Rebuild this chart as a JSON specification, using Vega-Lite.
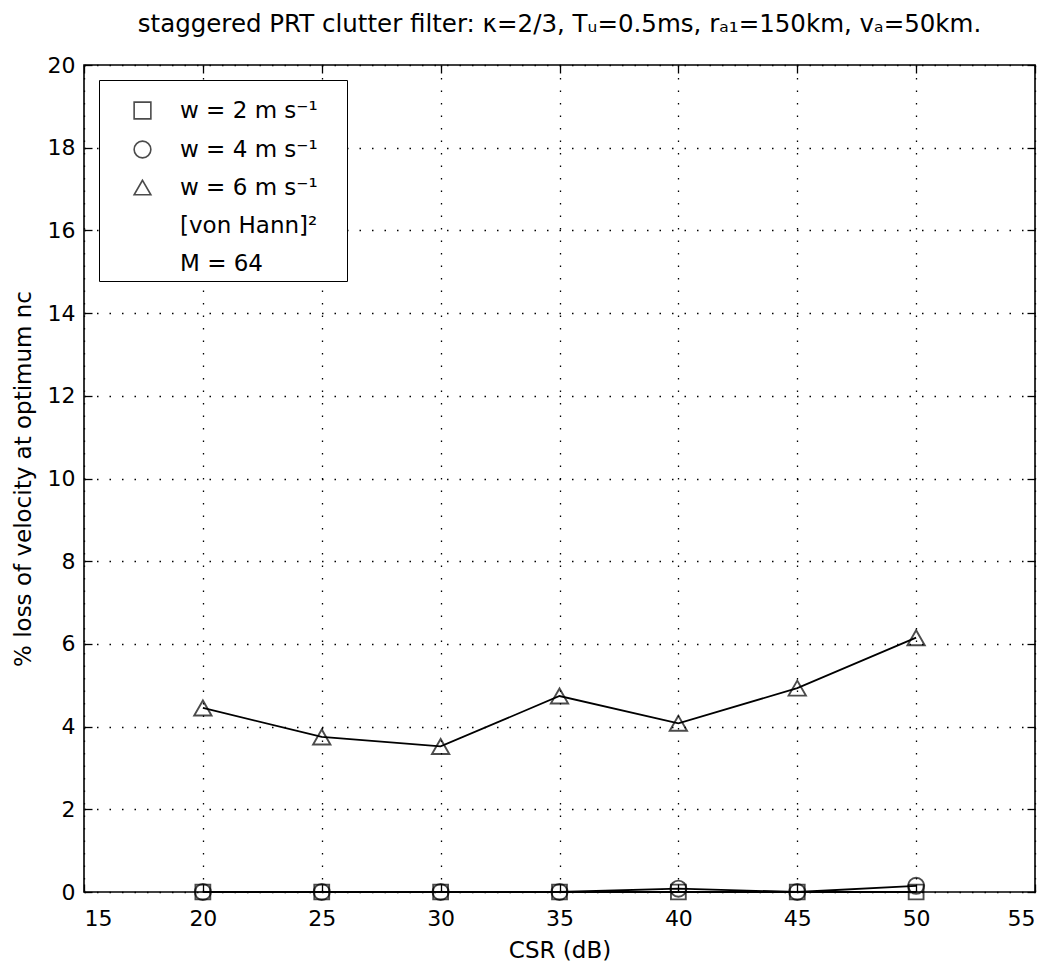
{
  "$schema": "https://vega.github.io/schema/vega-lite/v6.json",
  "width": 951,
  "height": 827,
  "autosize": "none",
  "padding": {"left": 84, "top": 65, "right": 20, "bottom": 77},
  "background": "white",
  "title": {
    "text": "staggered PRT clutter filter: κ=2/3, Tᵤ=0.5ms, rₐ₁=150km, vₐ=50km.",
    "font": "DejaVu Sans",
    "fontSize": 24.5,
    "fontWeight": "normal",
    "color": "black",
    "offset": 17
  },
  "data": {
    "values": [
      {"series": "w = 2 m s⁻¹", "csr": 20, "loss": 0},
      {"series": "w = 2 m s⁻¹", "csr": 25, "loss": 0},
      {"series": "w = 2 m s⁻¹", "csr": 30, "loss": 0},
      {"series": "w = 2 m s⁻¹", "csr": 35, "loss": 0},
      {"series": "w = 2 m s⁻¹", "csr": 40, "loss": 0},
      {"series": "w = 2 m s⁻¹", "csr": 45, "loss": 0},
      {"series": "w = 2 m s⁻¹", "csr": 50, "loss": 0},
      {"series": "w = 4 m s⁻¹", "csr": 20, "loss": 0},
      {"series": "w = 4 m s⁻¹", "csr": 25, "loss": 0},
      {"series": "w = 4 m s⁻¹", "csr": 30, "loss": 0},
      {"series": "w = 4 m s⁻¹", "csr": 35, "loss": 0},
      {"series": "w = 4 m s⁻¹", "csr": 40, "loss": 0.08},
      {"series": "w = 4 m s⁻¹", "csr": 45, "loss": 0},
      {"series": "w = 4 m s⁻¹", "csr": 50, "loss": 0.15},
      {"series": "w = 6 m s⁻¹", "csr": 20, "loss": 4.45},
      {"series": "w = 6 m s⁻¹", "csr": 25, "loss": 3.75},
      {"series": "w = 6 m s⁻¹", "csr": 30, "loss": 3.52},
      {"series": "w = 6 m s⁻¹", "csr": 35, "loss": 4.74},
      {"series": "w = 6 m s⁻¹", "csr": 40, "loss": 4.08},
      {"series": "w = 6 m s⁻¹", "csr": 45, "loss": 4.93},
      {"series": "w = 6 m s⁻¹", "csr": 50, "loss": 6.15}
    ]
  },
  "config": {
    "font": "DejaVu Sans",
    "view": {"stroke": "black", "strokeWidth": 1.6},
    "axis": {
      "domain": false,
      "tickColor": "black",
      "tickSize": -8,
      "tickWidth": 1.3,
      "labelFont": "DejaVu Sans",
      "labelFontSize": 22,
      "labelColor": "black",
      "titleFont": "DejaVu Sans",
      "titleFontSize": 23,
      "titleFontWeight": "normal",
      "titleColor": "black",
      "gridColor": "black",
      "gridOpacity": 1,
      "gridDash": [1.5, 11],
      "gridWidth": 1.3
    }
  },
  "layer": [
    {
      "mark": {"type": "line", "color": "black", "strokeWidth": 1.8, "clip": false},
      "encoding": {
        "x": {
          "field": "csr", "type": "quantitative",
          "scale": {"domain": [15, 55], "nice": false, "zero": false},
          "axis": {"orient": "bottom", "values": [15, 20, 25, 30, 35, 40, 45, 50, 55], "title": "CSR (dB)", "labelPadding": 24, "titlePadding": 10, "grid": true}
        },
        "y": {
          "field": "loss", "type": "quantitative",
          "scale": {"domain": [0, 20], "nice": false},
          "axis": {"orient": "left", "values": [0, 2, 4, 6, 8, 10, 12, 14, 16, 18, 20], "title": "% loss of velocity at optimum nc", "labelPadding": 17, "titlePadding": 12, "grid": true}
        },
        "detail": {"field": "series"}
      }
    },
    {
      "mark": {"type": "point", "filled": false, "color": "black", "strokeWidth": 1.9, "clip": false},
      "encoding": {
        "x": {
          "field": "csr", "type": "quantitative",
          "scale": {"domain": [15, 55], "nice": false, "zero": false},
          "axis": {"orient": "top", "values": [15, 20, 25, 30, 35, 40, 45, 50, 55], "labels": false, "title": null, "grid": false}
        },
        "y": {
          "field": "loss", "type": "quantitative",
          "scale": {"domain": [0, 20], "nice": false},
          "axis": {"orient": "right", "values": [0, 2, 4, 6, 8, 10, 12, 14, 16, 18, 20], "labels": false, "title": null, "grid": false}
        },
        "size": {
          "field": "series", "type": "nominal",
          "scale": {"domain": ["w = 2 m s⁻¹", "w = 4 m s⁻¹", "w = 6 m s⁻¹"], "range": [220, 300, 400]},
          "legend": null
        },
        "shape": {
          "field": "series", "type": "nominal",
          "scale": {
            "domain": ["w = 2 m s⁻¹", "w = 4 m s⁻¹", "w = 6 m s⁻¹", "[von Hann]²", "M = 64"],
            "range": ["square", "circle", "triangle-up", "M0,0", "M0,0"]
          },
          "legend": {
            "orient": "top-left",
            "offset": 15,
            "title": " ",
            "titleFontSize": 9,
            "titlePadding": 5,
            "padding": 5,
            "fillColor": "white",
            "strokeColor": "black",
            "labelFont": "DejaVu Sans",
            "labelFontSize": 23,
            "labelColor": "black",
            "labelLimit": 400,
            "labelExpr": "datum.label + '\u00a0\u2800'",
            "rowPadding": 14,
            "symbolOffset": 27,
            "labelOffset": 26,
            "symbolSize": 280,
            "symbolStrokeWidth": 1.6,
            "symbolStrokeColor": "black",
            "symbolFillColor": "transparent"
          }
        }
      }
    }
  ],
  "resolve": {"axis": {"x": "independent", "y": "independent"}}
}
